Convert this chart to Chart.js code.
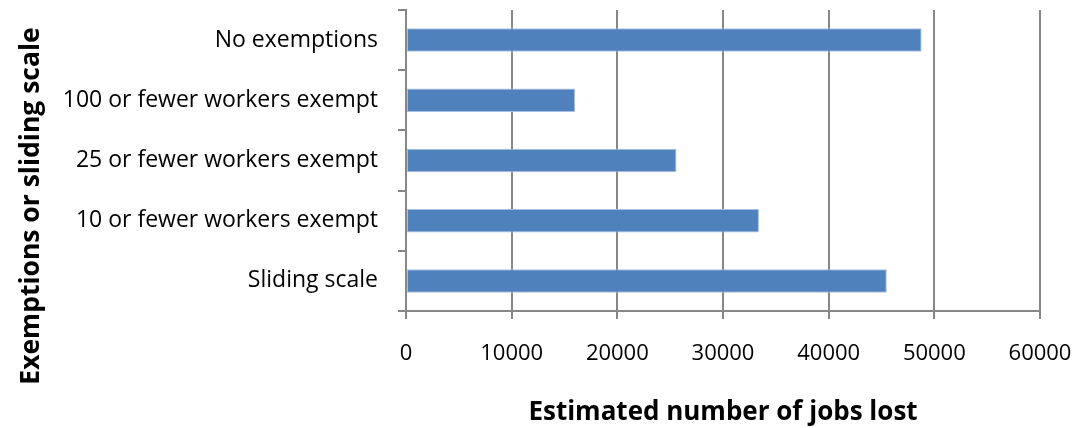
<!DOCTYPE html>
<html>
<head>
<meta charset="utf-8">
<script src="https://cdn.jsdelivr.net/npm/chart.js@4/dist/chart.umd.min.js"></script>
<style>
  html, body { margin: 0; padding: 0; background: #ffffff; }
  #wrap { width: 1078px; height: 428px; position: relative; }
</style>
</head>
<body>
<div id="wrap"><canvas id="c" width="1078" height="428"></canvas></div>
<script>
// Job-loss estimates by exemption scheme
const categories = [
  'No exemptions',
  '100 or fewer workers exempt',
  '25 or fewer workers exempt',
  '10 or fewer workers exempt',
  'Sliding scale'
];
const jobsLost = [48800, 16000, 25600, 33400, 45500];
const xTicks = [0, 10000, 20000, 30000, 40000, 50000, 60000];
const yTitle = 'Exemptions or sliding scale';

const FONT = '"Open Sans", "Liberation Sans", sans-serif';
const GRID = '#878787';

// Vertical category-axis title, centred on the whole canvas height
const sideTitle = {
  id: 'sideTitle',
  afterDraw(chart) {
    const ctx = chart.ctx;
    ctx.save();
    ctx.translate(31, 206);
    ctx.rotate(-Math.PI / 2);
    ctx.font = 'bold 26.5px ' + FONT;
    ctx.fillStyle = '#000';
    ctx.textAlign = 'center';
    ctx.textBaseline = 'middle';
    ctx.fillText(yTitle, 0, 0);
    ctx.restore();
  }
};

new Chart(document.getElementById('c'), {
  type: 'bar',
  data: {
    labels: categories,
    datasets: [{
      data: jobsLost,
      backgroundColor: '#4F81BD',
      borderColor: '#A7BFE0',
      borderWidth: 1,
      borderSkipped: false,
      categoryPercentage: 1.0,
      barPercentage: 0.39
    }]
  },
  plugins: [sideTitle],
  options: {
    indexAxis: 'y',
    responsive: false,
    animation: false,
    devicePixelRatio: 1,
    layout: { padding: { top: 10, right: 0, bottom: 0, left: 14 } },
    plugins: { legend: { display: false }, tooltip: { enabled: false } },
    scales: {
      x: {
        min: 0,
        max: 60000,
        afterBuildTicks: (s) => { s.ticks = xTicks.map(v => ({ value: v })); },
        grid: { color: GRID, lineWidth: 2, tickLength: 8, tickColor: GRID },
        border: { color: GRID, width: 2 },
        ticks: {
          color: '#000',
          font: { family: FONT, size: 22 },
          padding: 22,
          maxRotation: 0,
          callback: (v) => String(v)
        },
        title: {
          display: true,
          text: 'Estimated number of jobs lost',
          color: '#000',
          font: { family: FONT, size: 26, weight: 'bold' },
          padding: { top: 12, bottom: 0 }
        },
        afterFit: (s) => {
          s.height = 117;
          s.paddingLeft = 0;
          s.paddingRight = 38;
        }
      },
      y: {
        offset: true,
        grid: { drawOnChartArea: false, color: GRID, lineWidth: 2, tickLength: 8, offset: true },
        border: { color: GRID, width: 2 },
        ticks: { color: '#000', font: { family: FONT, size: 23 }, padding: 20 },
        afterFit: (s) => {
          s.width = 392;
          s.paddingTop = 0;
          s.paddingBottom = 0;
        }
      }
    }
  }
});
</script>
</body>
</html>
